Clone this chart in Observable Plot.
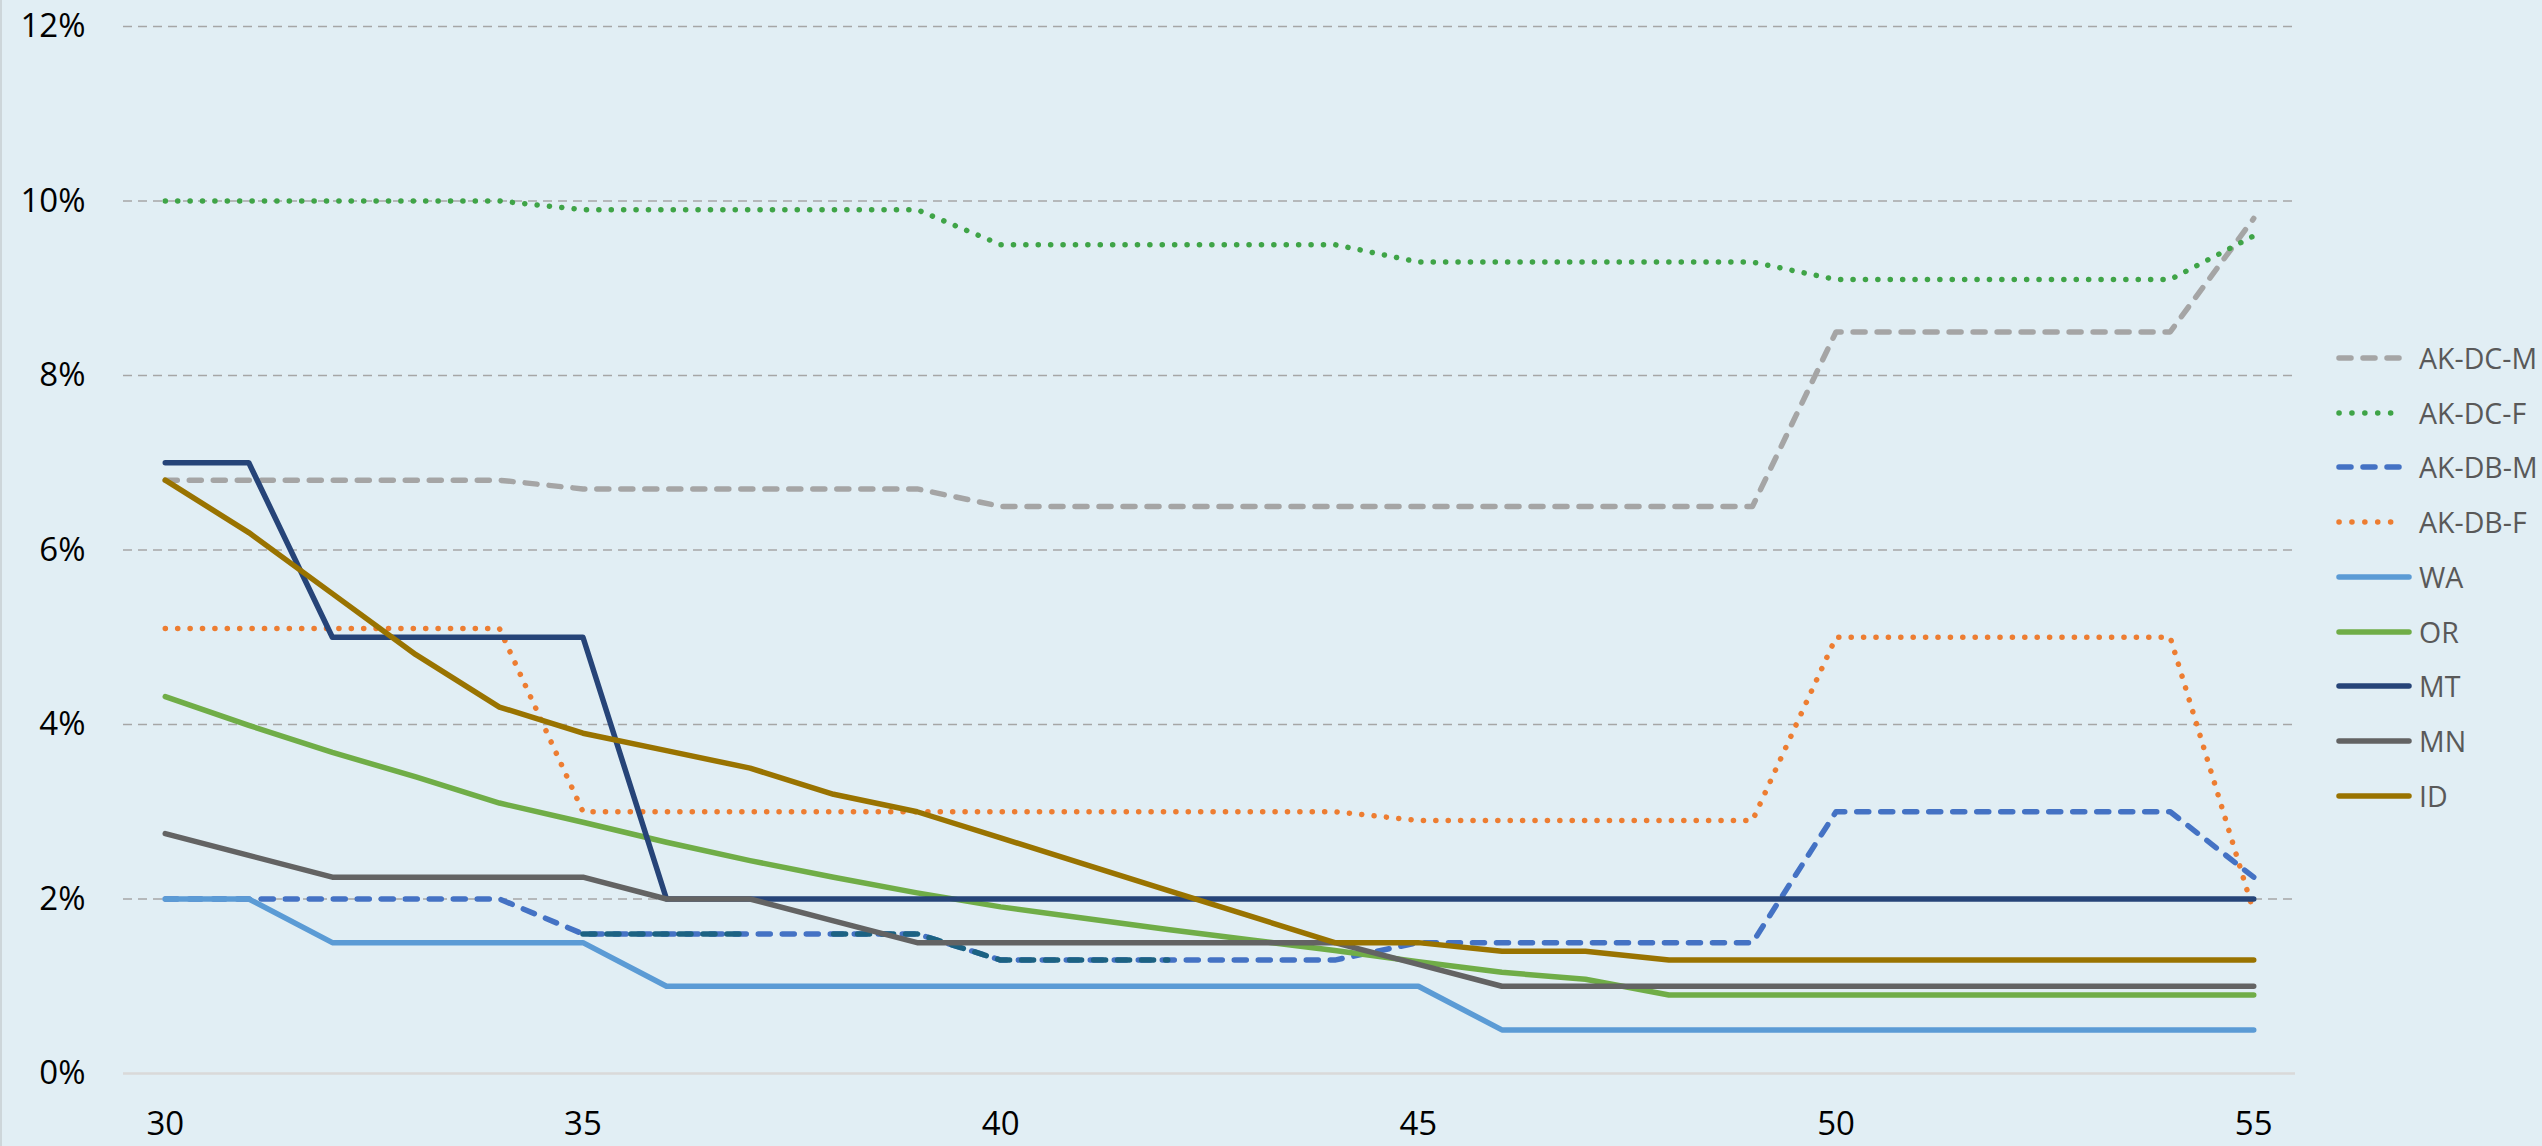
<!DOCTYPE html>
<html>
<head>
<meta charset="utf-8">
<script src="https://cdn.jsdelivr.net/npm/d3@7"></script>
<script src="https://cdn.jsdelivr.net/npm/@observablehq/plot@0.6"></script>
<style>
  html, body { margin: 0; padding: 0; background: #e1eef4; }
  #wrap { position: relative; width: 2542px; height: 1146px; background: #e1eef4; box-shadow: inset 2px 0 0 #cdd6da; overflow: hidden; }
  #legend { position: absolute; left: 0; top: 0; font-family: "Open Sans", "Noto Sans", sans-serif; font-size: 28.5px; color: #595959; }
  .sw { position: absolute; display: block; }
  .lbl { position: absolute; white-space: nowrap; line-height: 40px; height: 40px; }
</style>
</head>
<body>
<div id="wrap"><div id="legend"></div></div>
<script>
// ---------- data ----------
const ages = [30,31,32,33,34,35,36,37,38,39,40,41,42,43,44,45,46,47,48,49,50,51,52,53,54,55];
const xTickValues = [30,35,40,45,50,55];
const yTickValues = [0,2,4,6,8,10,12];

const seriesNames = ["AK-DC-M","AK-DC-F","AK-DB-M","AK-DB-F","WA","OR","MT","MN","ID"];

const akDcM = [6.8,6.8,6.8,6.8,6.8, 6.7,6.7,6.7,6.7,6.7, 6.5,6.5,6.5,6.5,6.5,6.5,6.5,6.5,6.5,6.5, 8.5,8.5,8.5,8.5,8.5, 9.8];
const akDcF = [10.0,10.0,10.0,10.0,10.0, 9.9,9.9,9.9,9.9,9.9, 9.5,9.5,9.5,9.5,9.5, 9.3,9.3,9.3,9.3,9.3, 9.1,9.1,9.1,9.1,9.1, 9.6];
const akDbM = [2.0,2.0,2.0,2.0,2.0, 1.6,1.6,1.6,1.6,1.6, 1.3,1.3,1.3,1.3,1.3, 1.5,1.5,1.5,1.5,1.5, 3.0,3.0,3.0,3.0,3.0, 2.25];
const akDbF = [5.1,5.1,5.1,5.1,5.1, 3.0,3.0,3.0,3.0,3.0,3.0,3.0,3.0,3.0,3.0, 2.9,2.9,2.9,2.9,2.9, 5.0,5.0,5.0,5.0,5.0, 1.85];
const wa    = [2.0,2.0, 1.5,1.5,1.5,1.5, 1.0,1.0,1.0,1.0,1.0,1.0,1.0,1.0,1.0,1.0, 0.5,0.5,0.5,0.5,0.5,0.5,0.5,0.5,0.5,0.5];
const or    = [4.32,3.99,3.68,3.40,3.10,2.88,2.65,2.44,2.25,2.07,1.91,1.78,1.65,1.53,1.41,1.28,1.16,1.08,0.9, 0.9,0.9,0.9,0.9,0.9,0.9,0.9];
const mt    = [7.0,7.0, 5.0,5.0,5.0,5.0, 2.0,2.0,2.0,2.0,2.0,2.0,2.0,2.0,2.0,2.0,2.0,2.0,2.0,2.0,2.0,2.0,2.0,2.0,2.0,2.0];
const mn    = [2.75,2.5,2.25,2.25,2.25,2.25,2.0,2.0,1.75,1.5, 1.5,1.5,1.5,1.5,1.5, 1.25, 1.0,1.0,1.0,1.0,1.0,1.0,1.0,1.0,1.0,1.0];
const id    = [6.8,6.2,5.5,4.8,4.2,3.9,3.7,3.5,3.2,3.0,2.7,2.4,2.1,1.8,1.5,1.5,1.4,1.4, 1.3,1.3,1.3,1.3,1.3,1.3,1.3,1.3];

// extra unlabelled dark-teal dashed series (not in the legend)
const tealAges     = [35,36,37,38,39,40,41,42];
const tealValues   = [1.6,1.6,1.6,1.6,1.6,1.3,1.3,1.3];
const tealSegments = [1,1,1,2,2,2,2,2];

const seriesValues = [akDcM, akDcF, akDbM, akDbF, wa, or, mt, mn, id];
const seriesColors = ["#a5a5a5","#3fa447","#4472c4","#ed7d31","#5b9bd5","#70ad47","#264478","#636363","#997300"];
const seriesStyles = ["dash","dot","dash","dot","solid","solid","solid","solid","solid"];
const tealColor = "#1c6282";

// ---------- build ----------
const LW = 5.5;
const DASH = "12,12";
const DOT = "0.1,12.3";
const dashFor = s => s === "dash" ? DASH : s === "dot" ? DOT : null;

const table = [];
seriesNames.forEach((name, i) => {
  ages.forEach((a, j) => table.push({series: name, age: a, value: seriesValues[i][j]}));
});
const tealTable = tealAges.map((a, j) => ({age: a, value: tealValues[j], seg: tealSegments[j]}));

function lineMark(name, i) {
  const opts = {
    x: "age", y: "value",
    stroke: seriesColors[i], strokeWidth: LW,
    strokeLinecap: "round", strokeLinejoin: "round"
  };
  const d = dashFor(seriesStyles[i]);
  if (d) opts.strokeDasharray = d;
  return Plot.line(table.filter(r => r.series === name), opts);
}

const lineMarks = [];
seriesNames.forEach((name, i) => {
  lineMarks.push(lineMark(name, i));
  if (name === "AK-DB-M") {
    lineMarks.push(Plot.line(tealTable, {
      x: "age", y: "value", z: "seg", stroke: tealColor, strokeWidth: LW,
      strokeDasharray: DASH, strokeLinecap: "round", strokeLinejoin: "round"
    }));
  }
});

const chart = Plot.plot({
  width: 2542,
  height: 1146,
  marginLeft: 123,
  marginRight: 247,
  marginTop: 26,
  marginBottom: 73,
  style: {background: "transparent", fontFamily: "'Open Sans', 'Noto Sans', sans-serif", fontSize: "33px", color: "#000", overflow: "visible"},
  x: {domain: [29.5, 55.5], ticks: xTickValues, tickSize: 0, tickPadding: 38, label: null, tickFormat: d => String(d)},
  y: {domain: [0, 12], ticks: yTickValues, tickSize: 0, tickPadding: 38, label: null, tickFormat: d => d + "%"},
  marks: [
    Plot.ruleY(yTickValues.filter(v => v > 0), {stroke: "#a6a6a6", strokeWidth: 1.6, strokeDasharray: "9,6"}),
    Plot.ruleY([0], {stroke: "#d9d9d9", strokeWidth: 2.5}),
    ...lineMarks
  ]
});
document.getElementById("wrap").insertBefore(chart, document.getElementById("legend"));
chart.style.position = "absolute";
chart.style.left = "0px";
chart.style.top = "0px";

// ---------- legend (HTML) ----------
const legend = document.getElementById("legend");
seriesNames.forEach((name, i) => {
  const cy = 358 + 54.7 * i;
  const style = seriesStyles[i];
  const svg = d3.create("svg").attr("class", "sw").attr("width", 80).attr("height", 20)
    .style("left", "2335px").style("top", (cy - 10) + "px");
  const ln = svg.append("line")
    .attr("x1", 4).attr("x2", style === "solid" ? 74 : 68)
    .attr("y1", 10).attr("y2", 10)
    .attr("stroke", seriesColors[i]).attr("stroke-width", LW)
    .attr("stroke-linecap", "round");
  if (style === "dash") ln.attr("stroke-dasharray", DASH);
  if (style === "dot") ln.attr("stroke-dasharray", "0.1,12.8");
  legend.appendChild(svg.node());
  const t = document.createElement("div");
  t.className = "lbl";
  t.style.left = "2419px";
  t.style.top = (cy - 20) + "px";
  t.textContent = name;
  legend.appendChild(t);
});
</script>
</body>
</html>
